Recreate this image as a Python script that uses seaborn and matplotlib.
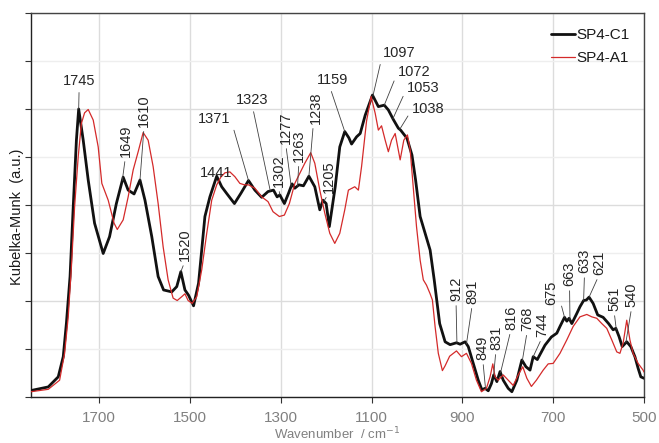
import numpy as np
import pandas as pd
import matplotlib
matplotlib.use("Agg")
import matplotlib.pyplot as plt
import seaborn as sns

# ---------------- data ----------------
wn_c1 = [1850, 1812, 1790, 1779, 1772, 1764, 1757, 1750, 1745, 1735, 1724, 1710, 1691, 1677,
         1662, 1647, 1636, 1623, 1610, 1599, 1584, 1570, 1558, 1540, 1529, 1520, 1511, 1503,
         1492, 1481, 1467, 1456, 1441, 1430, 1419, 1402, 1388, 1371, 1357, 1342, 1328, 1316,
         1308, 1302, 1292, 1283, 1275, 1269, 1260, 1250, 1238, 1225, 1214, 1207, 1200, 1193,
         1180, 1170, 1159, 1150, 1144, 1133, 1125, 1114, 1098, 1085, 1072, 1063, 1052, 1041,
         1036, 1022, 1011, 1003, 993, 982, 971, 962, 950, 938, 927, 913, 905, 894, 887, 876,
         865, 857, 850, 843, 836, 831, 824, 817, 810, 799, 791, 780, 769, 760, 751, 744, 735,
         722, 718, 704, 692, 685, 675, 670, 665, 659, 648, 641, 633, 627, 621, 612, 602, 590,
         578, 568, 562, 555, 548, 538, 529, 520, 513, 507, 500]
km_c1 = [0.135, 0.21, 0.42, 0.84, 1.54, 2.51, 3.96, 5.35, 6.0, 5.35, 4.52, 3.62, 2.99, 3.34,
         4.03, 4.58, 4.31, 4.23, 4.52, 4.10, 3.34, 2.51, 2.23, 2.19, 2.30, 2.61, 2.23, 2.12,
         1.90, 2.37, 3.76, 4.17, 4.60, 4.38, 4.24, 4.03, 4.24, 4.51, 4.31, 4.16, 4.28, 4.31,
         4.17, 4.21, 4.03, 4.24, 4.44, 4.35, 4.42, 4.40, 4.60, 4.38, 3.90, 4.10, 4.03, 3.55,
         4.38, 5.21, 5.53, 5.40, 5.27, 5.42, 5.49, 5.87, 6.29, 6.05, 6.08, 5.98, 5.78, 5.60,
         5.56, 5.39, 5.04, 4.52, 3.76, 3.41, 3.06, 2.44, 1.53, 1.15, 1.09, 1.13, 1.10, 1.15,
         1.05, 0.70, 0.35, 0.15, 0.18, 0.13, 0.28, 0.46, 0.32, 0.53, 0.35, 0.18, 0.11, 0.35,
         0.77, 0.63, 0.56, 0.84, 0.78, 1.01, 1.08, 1.25, 1.33, 1.47, 1.66, 1.58, 1.64, 1.53,
         1.74, 1.88, 2.01, 2.02, 2.08, 1.95, 1.71, 1.66, 1.53, 1.40, 1.43, 1.26, 1.05, 1.15,
         1.05, 0.84, 0.60, 0.42, 0.39]

wn_a1 = [1850, 1812, 1787, 1776, 1768, 1761, 1754, 1746, 1739, 1732, 1724, 1713, 1702, 1694,
         1680, 1667, 1660, 1647, 1636, 1625, 1614, 1603, 1592, 1581, 1570, 1559, 1548, 1537,
         1528, 1518, 1511, 1504, 1495, 1485, 1474, 1463, 1452, 1441, 1432, 1423, 1412, 1401,
         1390, 1380, 1371, 1357, 1342, 1328, 1317, 1303, 1292, 1281, 1269, 1258, 1247, 1234,
         1225, 1214, 1203, 1192, 1181, 1170, 1159, 1151, 1137, 1129, 1122, 1111, 1101, 1092,
         1085, 1078, 1070, 1063, 1056, 1048, 1037, 1029, 1021, 1015, 1008, 1001, 993, 986,
         979, 971, 966, 960, 953, 944, 938, 928, 913, 902, 891, 880, 869, 858, 847, 839, 833,
         828, 821, 810, 799, 788, 777, 767, 758, 748, 737, 722, 711, 700, 685, 670, 656, 641,
         626, 615, 604, 593, 582, 571, 560, 553, 546, 538, 531, 524, 513, 502, 500]
km_a1 = [0.11, 0.16, 0.35, 0.91, 1.67, 2.71, 3.96, 5.01, 5.70, 5.92, 5.99, 5.77, 5.21, 4.45,
         4.10, 3.62, 3.49, 3.69, 4.17, 4.73, 5.11, 5.51, 5.35, 4.80, 4.03, 3.13, 2.44, 2.06,
         2.01, 2.09, 2.15, 2.01, 1.95, 2.09, 2.65, 3.41, 4.10, 4.42, 4.58, 4.67, 4.69, 4.59,
         4.45, 4.42, 4.42, 4.35, 4.17, 4.07, 3.86, 3.76, 3.79, 4.03, 4.45, 4.66, 4.87, 5.09,
         4.87, 4.31, 3.83, 3.41, 3.20, 3.41, 3.90, 4.31, 4.38, 4.31, 4.80, 5.75, 6.26, 5.91,
         5.56, 5.65, 5.35, 5.11, 5.35, 5.49, 4.94, 5.35, 5.46, 5.15, 4.35, 3.55, 2.85, 2.44,
         2.33, 2.15, 2.02, 1.46, 0.91, 0.55, 0.65, 0.85, 0.96, 0.84, 0.91, 0.70, 0.35, 0.11,
         0.18, 0.42, 0.69, 0.42, 0.35, 0.46, 0.35, 0.24, 0.46, 0.63, 0.39, 0.22, 0.35, 0.56,
         0.69, 0.70, 0.91, 1.19, 1.47, 1.67, 1.72, 1.67, 1.64, 1.53, 1.43, 1.19, 0.94, 0.91,
         1.12, 1.60, 1.19, 0.91, 0.70, 0.56, 0.52]

series_names = ["SP4-C1", "SP4-A1"]
xtick_values = [1700, 1500, 1300, 1100, 900, 700, 500]

# peak labels (annotating SP4-C1)
peak_labels = [1745, 1649, 1610, 1520, 1441, 1371, 1323, 1302, 1277, 1263, 1238, 1205, 1159,
               1097, 1072, 1053, 1038, 912, 891, 849, 831, 816, 768, 744, 675, 663, 633, 621,
               561, 540]

# ---------------- layout for labels: (text x, text y, rotation, ha, va, relpos, leader) --
label_layout = {
    1745: (1744, 6.44, 0, "center", "bottom", (0.5, 0), True),
    1649: (1642, 5.00, 90, "center", "bottom", (0.5, 0), True),
    1610: (1601, 5.63, 90, "center", "bottom", (0.5, 0), True),
    1520: (1511, 2.83, 90, "center", "bottom", (0.5, 0), True),
    1441: (1442, 4.52, 0, "center", "bottom", (0.5, 0), False),
    1371: (1482, 5.80, 0, "left", "center", (1, 0.5), True),
    1323: (1362, 6.04, 0, "center", "bottom", (0.5, 0), True),
    1302: (1305, 4.375, 90, "center", "bottom", (0.5, 0), True),
    1277: (1289, 5.27, 90, "center", "bottom", (0.5, 0), True),
    1263: (1260, 4.90, 90, "center", "bottom", (0.5, 0), True),
    1238: (1222, 5.69, 90, "center", "bottom", (0.3, 0), True),
    1205: (1194, 4.25, 90, "center", "bottom", (0.5, 0), True),
    1159: (1185, 6.46, 0, "center", "bottom", (0.4, 0), True),
    1097: (1075, 7.17, 0, "left", "center", (0, 0.5), True),
    1072: (1042, 6.78, 0, "left", "center", (0, 0.5), True),
    1053: (1022, 6.44, 0, "left", "center", (0, 0.5), True),
    1038: (1011, 5.99, 0, "left", "center", (0, 0.5), True),
    912: (914, 2.00, 90, "center", "bottom", (0.5, 0), True),
    891: (878, 1.94, 90, "center", "bottom", (0.5, 0), True),
    849: (855, 0.77, 90, "center", "bottom", (0.5, 0), True),
    831: (826, 0.98, 90, "center", "bottom", (0.5, 0), True),
    816: (793, 1.40, 90, "center", "bottom", (0.5, 0), True),
    768: (757, 1.38, 90, "center", "bottom", (0.5, 0), True),
    744: (724, 1.25, 90, "center", "bottom", (0.5, 0), True),
    675: (705, 2.18, 90, "center", "center", (1, 0.5), True),
    663: (664, 2.31, 90, "center", "bottom", (0.5, 0), True),
    633: (631, 2.58, 90, "center", "bottom", (0.5, 0), True),
    621: (599, 2.54, 90, "center", "bottom", (0.5, 0), True),
    561: (566, 1.79, 90, "center", "bottom", (0.5, 0), True),
    540: (527, 1.875, 90, "center", "bottom", (0.5, 0), True),
}

# ---------------- figure ----------------
sns.set_style("ticks")
plt.rcParams["font.family"] = ["Liberation Sans", "DejaVu Sans"]

fig = plt.figure(figsize=(6.59, 4.43), dpi=100)
ax = fig.add_axes([31 / 659, 1 - 397 / 443, (644 - 31) / 659, (397 - 13) / 443])

df_c1 = pd.DataFrame({"wn": wn_c1, "km": km_c1})
df_a1 = pd.DataFrame({"wn": wn_a1, "km": km_a1})

sns.lineplot(data=df_c1, x="wn", y="km", ax=ax, color="#111111", lw=2.0,
             sort=False, label=series_names[0], zorder=3,
             solid_joinstyle="round", solid_capstyle="round")
sns.lineplot(data=df_a1, x="wn", y="km", ax=ax, color="#d42a2a", lw=0.9,
             sort=False, label=series_names[1], zorder=4,
             solid_joinstyle="round")

ax.set_xlim(1850, 500)
ax.set_ylim(0, 8)

ax.set_xticks(xtick_values)
ax.set_xticklabels([str(v) for v in xtick_values])
ax.set_yticks([0, 2, 4, 6, 8])
ax.set_yticks([1, 3, 5, 7], minor=True)
ax.set_yticklabels([])
ax.tick_params(axis="x", which="major", direction="out", length=4, width=0.8,
               colors="#333333", labelcolor="#808080", labelsize=11, pad=6)
ax.tick_params(axis="y", which="both", direction="out", length=4, width=0.8,
               colors="#333333", left=True)

ax.grid(axis="x", which="major", color="#dcdcdc", lw=1.0, zorder=0)
ax.grid(axis="y", which="major", color="#dcdcdc", lw=1.0, zorder=0)
ax.grid(axis="y", which="minor", color="#eeeeee", lw=1.0, zorder=0)
ax.set_axisbelow(True)

for side in ["left", "bottom", "top", "right"]:
    ax.spines[side].set_visible(True)
    ax.spines[side].set_linewidth(1.0)
    ax.spines[side].set_color("#222222" if side in ("left", "bottom") else "#444444")

ax.set_xlabel("Wavenumber  / cm$^{-1}$", color="#808080", fontsize=9.5)
ax.xaxis.set_label_coords(0.5, -0.074)
ax.set_ylabel("Kubelka-Munk  (a.u.)", color="#1a1a1a", fontsize=10.5)
ax.yaxis.set_label_coords(-0.011, 0.47)

# peak annotations
for lab in peak_labels:
    tx, ty, rot, ha, va, rp, leader = label_layout[lab]
    py = float(np.interp(lab, wn_c1[::-1], km_c1[::-1]))
    if leader:
        ax.annotate(str(lab), xy=(lab, py), xytext=(tx, ty), rotation=rot,
                    ha=ha, va=va, fontsize=10.5, color="#262626",
                    arrowprops=dict(arrowstyle="-", color="#404040", lw=0.6,
                                    shrinkA=1, shrinkB=0, relpos=rp),
                    zorder=5)
    else:
        ax.text(tx, ty, str(lab), rotation=rot, ha=ha, va=va, fontsize=10.5,
                color="#262626", zorder=5)

leg = ax.legend(loc="upper right", bbox_to_anchor=(0.992, 0.985), frameon=False,
                fontsize=11, handlelength=1.6, handletextpad=0.1, labelspacing=0.6,
                borderaxespad=0.2)
for t in leg.get_texts():
    t.set_color("#1a1a1a")

fig.savefig("out.png", dpi=100)
